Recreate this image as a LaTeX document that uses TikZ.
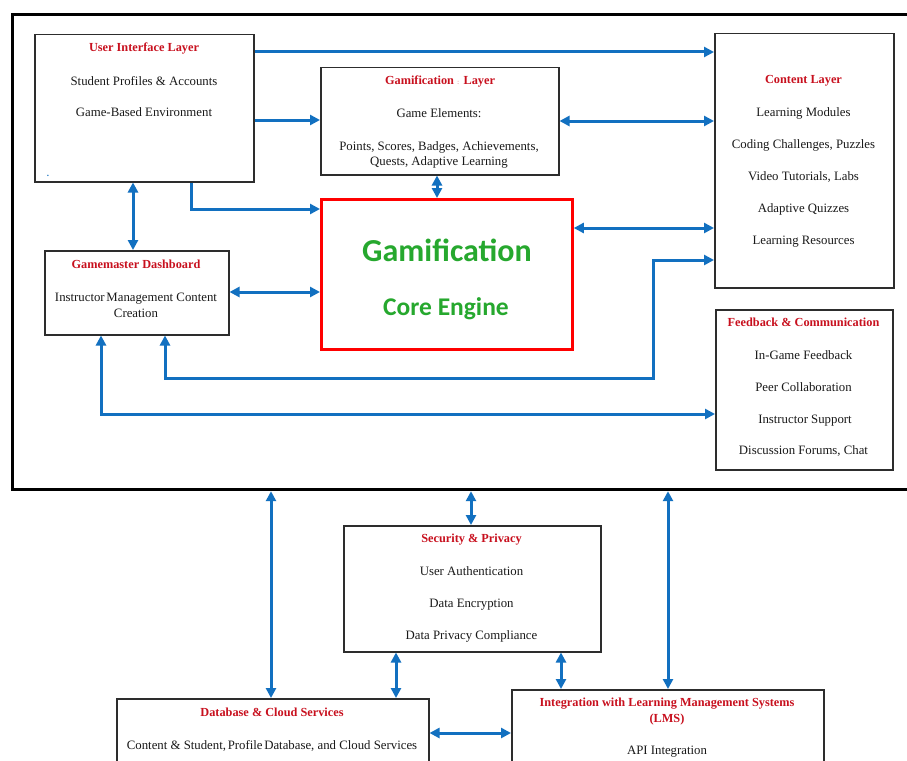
\documentclass[tikz,border=0pt]{standalone}
\usepackage{fontspec}
\setmainfont{Liberation Serif}
\newfontfamily\carlito{Carlito}
\usetikzlibrary{arrows.meta,calc}
\definecolor{ttlred}{RGB}{200,16,30}
\definecolor{arrblue}{RGB}{18,112,192}
\definecolor{enggreen}{RGB}{38,168,46}
\definecolor{boxgray}{RGB}{45,45,45}
\begin{document}
\begin{tikzpicture}[x=1pt,y=-1pt,
  box/.style={draw=boxgray,line width=1.5pt,anchor=north west,inner sep=0pt,fill=white},
  ttl/.style={font=\bfseries\fontsize{12.3}{13}\selectfont,text=ttlred,text height=9.5pt,text depth=0pt,inner sep=0pt},
  txt/.style={font=\fontsize{12.8}{14}\selectfont,text=black!90,text height=10pt,text depth=0pt,inner sep=0pt},
  arr/.style={draw=arrblue,line width=3pt,-{Triangle[length=10pt,width=10pt]}},
  darr/.style={draw=arrblue,line width=3pt,{Triangle[length=10pt,width=10pt]}-{Triangle[length=10pt,width=10pt]}}]
\clip (0,0) rectangle (907,760);
\fill[white] (0,0) rectangle (907,760);
% outer frame
\node[draw=black,line width=3.2pt,anchor=north west,inner sep=0pt,minimum width=920,minimum height=475] (outer) at (11,13) {};
% boxes
\node[box,minimum width=219,minimum height=147] (ui) at (34,34) {};
\node[box,minimum width=238,minimum height=107] (gl) at (320,67) {};
\node[box,minimum width=179,minimum height=254] (content) at (714,33) {};
\node[draw=red,line width=2.8pt,anchor=north west,inner sep=0pt,minimum width=251,minimum height=150] (core) at (320,198) {};
\node[box,minimum width=184,minimum height=84] (gm) at (44,250) {};
\node[box,minimum width=177,minimum height=160] (fb) at (715,309) {};
\node[box,minimum width=257,minimum height=126] (sec) at (343,525) {};
\node[box,minimum width=312,minimum height=90] (db) at (116,698) {};
\node[box,minimum width=312,minimum height=100] (lms) at (511,689) {};
% UI texts
\node[ttl] (uit) at (144,47) {User Interface Layer};
\node[txt] (ui1) at (144,80) {Student Profiles \& Accounts};
\node[txt] (ui2) at (144,111) {Game-Based Environment};
\node[txt,text=arrblue,font=\bfseries\fontsize{9}{9}\selectfont] (uidot) at (48,171) {.};
% Gamification layer
\node[ttl] (glt) at (440,80) {Gamification \textcolor{ttlred!35}{\fontsize{7}{8}\selectfont :} Layer};
\node[txt] (gl1) at (439,112) {Game Elements:};
\node[txt] (gl2) at (439,145) {Points, Scores, Badges, Achievements,};
\node[txt] (gl3) at (439,160) {Quests, Adaptive Learning};
% Content layer
\node[ttl] (ct) at (803.5,79) {Content Layer};
\node[txt] (c1) at (803.5,111) {Learning Modules};
\node[txt] (c2) at (803.5,143) {Coding Challenges, Puzzles};
\node[txt] (c3) at (803.5,175) {Video Tutorials, Labs};
\node[txt] (c4) at (803.5,207) {Adaptive Quizzes};
\node[txt] (c5) at (803.5,239) {Learning Resources};
% Core engine
\node[font=\carlito\bfseries\fontsize{32}{36}\selectfont,text=enggreen,text height=22pt,text depth=0pt,inner sep=0pt] (core1) at (447,250) {Gamification};
\node[font=\carlito\bfseries\fontsize{25.5}{30}\selectfont,text=enggreen,text height=16pt,text depth=0pt,inner sep=0pt] (core2) at (446,307) {Core Engine};
% Gamemaster
\node[ttl] (gmt) at (136,264) {Gamemaster Dashboard};
\node[txt] (gm1) at (136,296) {Instructor\kern-1.5pt\ Management Content};
\node[txt] (gm2) at (136,312) {Creation};
% Feedback
\node[ttl] (fbt) at (803.5,322) {Feedback \& Communication};
\node[txt] (f1) at (803.5,354) {In-Game Feedback};
\node[txt] (f2) at (803.5,386) {Peer Collaboration};
\node[txt] (f3) at (805,418) {Instructor Support};
\node[txt] (f4) at (803.5,449) {Discussion Forums, Chat};
% Security
\node[ttl] (st) at (471.5,538) {Security \& Privacy};
\node[txt] (s1) at (471.5,570) {User Authentication};
\node[txt] (s2) at (471.5,602) {Data Encryption};
\node[txt] (s3) at (471.5,634) {Data Privacy Compliance};
% Database
\node[ttl] (dbt) at (272,712) {Database \& Cloud Services};
\node[txt] (db1) at (272,744) {Content \& Student,\kern-1.5pt\ Profile\kern-1.5pt\ Database, and Cloud Services};
% LMS
\node[ttl] (lt1) at (667,702) {Integration with Learning Management Systems};
\node[ttl] (lt2) at (667,718) {(LMS)};
\node[txt] (l1) at (667,749) {API Integration};
% connectors
\draw[arr] (ui.east |- 0,52) -- (content.west |- 0,52);
\draw[arr] (ui.east |- 0,120) -- (gl.west |- 0,120);
\draw[darr] (gl.east |- 0,121) -- (content.west |- 0,121);
\draw[darr] (gl.south -| 437,0) -- (core.north -| 437,0);
\draw[darr] (ui.south -| 133,0) -- (gm.north -| 133,0);
\draw[arr] (ui.south -| 191,0) |- (core.west |- 0,209);
\draw[darr] (core.east |- 0,228) -- (content.west |- 0,228);
\draw[darr] (gm.east |- 0,292) -- (core.west |- 0,292);
\coordinate (bend1) at (653,378);
\draw[darr] (gm.south -| 165,0) |- (bend1) |- (content.west |- 0,260);
\draw[darr] (gm.south -| 101,0) |- (fb.west |- 0,414);
\draw[darr] (outer.south -| 271,0) -- (db.north -| 271,0);
\draw[darr] (outer.south -| 471,0) -- (sec.north -| 471,0);
\draw[darr] (outer.south -| 668,0) -- (lms.north -| 668,0);
\draw[darr] (sec.south -| 396,0) -- (db.north -| 396,0);
\draw[darr] (sec.south -| 561,0) -- (lms.north -| 561,0);
\draw[darr] (db.east |- 0,733) -- (lms.west |- 0,733);
\end{tikzpicture}
\end{document}
